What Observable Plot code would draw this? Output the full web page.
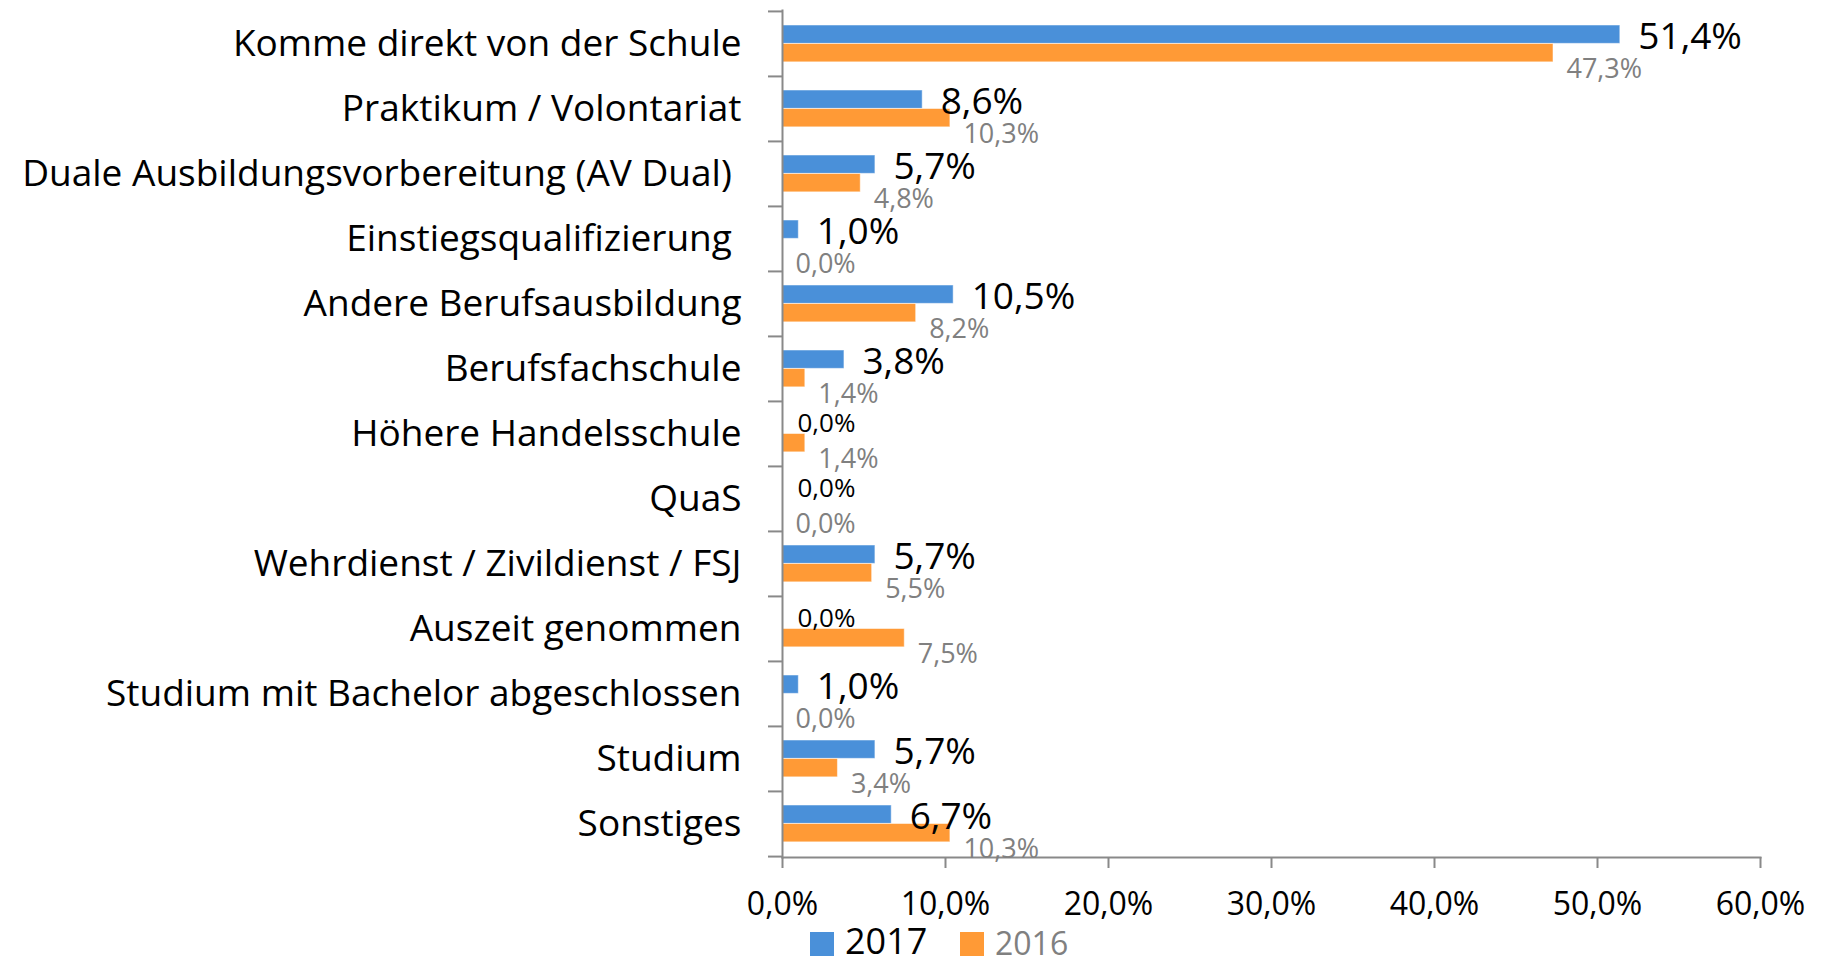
<!DOCTYPE html>
<html>
<head>
<meta charset="utf-8">
<script src="https://cdn.jsdelivr.net/npm/d3@7"></script>
<script src="https://cdn.jsdelivr.net/npm/@observablehq/plot@0.6"></script>
<style>
  html, body { margin: 0; padding: 0; background: white; }
  body { width: 1823px; height: 958px; overflow: hidden; font-family: "Open Sans", sans-serif; }
  #legend { position: relative; height: 26px; width: 1823px; }
  #legend .sw { position: absolute; top: 0; width: 24px; height: 24px; }
  #legend .lb { position: absolute; white-space: nowrap; line-height: 26px; }
</style>
</head>
<body>
<div id="chart"></div>
<div id="legend"></div>
<script>
const categories = [
  "Komme direkt von der Schule",
  "Praktikum / Volontariat",
  "Duale Ausbildungsvorbereitung (AV Dual)\u00a0",
  "Einstiegsqualifizierung\u00a0",
  "Andere Berufsausbildung",
  "Berufsfachschule",
  "Höhere Handelsschule",
  "QuaS",
  "Wehrdienst / Zivildienst / FSJ",
  "Auszeit genommen",
  "Studium mit Bachelor abgeschlossen",
  "Studium",
  "Sonstiges"
];
const values2017 = [51.4, 8.6, 5.7, 1.0, 10.5, 3.8, 0.0, 0.0, 5.7, 0.0, 1.0, 5.7, 6.7];
const values2016 = [47.3, 10.3, 4.8, 0.0, 8.2, 1.4, 1.4, 0.0, 5.5, 7.5, 0.0, 3.4, 10.3];
const seriesNames = ["2017", "2016"];
const xTicks = [0, 10, 20, 30, 40, 50, 60];

const colors = {"2017": "#4a90d9", "2016": "#ff9a36"};
const axisGray = "#898989";
const labelGray = "#808080";

const fmt = v => v.toFixed(1).replace(".", ",") + "%";

const d2017 = categories.map((c, i) => ({category: c, value: values2017[i]}));
const d2016 = categories.map((c, i) => ({category: c, value: values2016[i]}));

const W = 1823, H = 932, mt = 10, mb = 75, ml = 782, mr = 63;
const step = (H - mt - mb) / categories.length;
const pxPerUnit = (W - ml - mr) / 60;
const tickLen = 14 / pxPerUnit;

const chart = Plot.plot({
  width: W,
  height: H,
  marginTop: mt,
  marginBottom: mb,
  marginLeft: ml,
  marginRight: mr,
  style: {fontFamily: "Open Sans", color: "black", background: "white"},
  x: {domain: [0, 60], axis: null, label: null},
  y: {domain: categories, type: "band", padding: 0, axis: null, label: null},
  marks: [
    Plot.barX(d2017, {x: "value", y: "category", fill: colors["2017"], insetTop: 14, insetBottom: step - 32.5, stroke: "white", strokeOpacity: 0.5, strokeWidth: 1}),
    Plot.barX(d2016, {x: "value", y: "category", fill: colors["2016"], insetTop: 32.5, insetBottom: step - 51, stroke: "white", strokeOpacity: 0.5, strokeWidth: 1}),
    Plot.frame({anchor: "left", stroke: axisGray, strokeWidth: 2}),
    Plot.frame({anchor: "bottom", stroke: axisGray, strokeWidth: 2}),
    Plot.ruleY(categories, {y: d => d, x1: -tickLen, x2: 0, dy: -step / 2, stroke: axisGray, strokeWidth: 2}),
    Plot.ruleY([categories[categories.length - 1]], {y: d => d, x1: -tickLen, x2: 0, dy: step / 2, stroke: axisGray, strokeWidth: 2}),
    Plot.axisX({ticks: xTicks, tickSize: 11, tickPadding: 24, tickFormat: fmt, fontSize: 32, stroke: axisGray, strokeWidth: 2, fill: "black", label: null}),
    Plot.axisY({tickSize: 0, tickPadding: 41, fontSize: 37, fill: "black", label: null}),
    Plot.text(d2017.filter(d => d.value > 0), {x: "value", y: "category", text: d => fmt(d.value), textAnchor: "start", dx: 18, dy: -7, fontSize: 37, fill: "black"}),
    Plot.text(d2017.filter(d => d.value === 0), {x: "value", y: "category", text: d => fmt(d.value), textAnchor: "start", dx: 15, dy: -10, fontSize: 26, fill: "black"}),
    Plot.text(d2016, {x: "value", y: "category", text: d => fmt(d.value), textAnchor: "start", dx: 13, dy: 25, fontSize: 27, fill: labelGray})
  ]
});
document.getElementById("chart").appendChild(chart);

// legend below the chart
const legend = document.getElementById("legend");
const legendItems = [
  {name: seriesNames[0], sw: 810, tx: 845, size: 36, color: "black", top: -4},
  {name: seriesNames[1], sw: 960, tx: 995, size: 32, color: labelGray, top: -2}
];
for (const it of legendItems) {
  const s = document.createElement("div");
  s.className = "sw";
  s.style.left = it.sw + "px";
  s.style.background = colors[it.name];
  legend.appendChild(s);
  const t = document.createElement("div");
  t.className = "lb";
  t.style.left = it.tx + "px";
  t.style.top = it.top + "px";
  t.style.fontSize = it.size + "px";
  t.style.color = it.color;
  t.textContent = it.name;
  legend.appendChild(t);
}
</script>
</body>
</html>
